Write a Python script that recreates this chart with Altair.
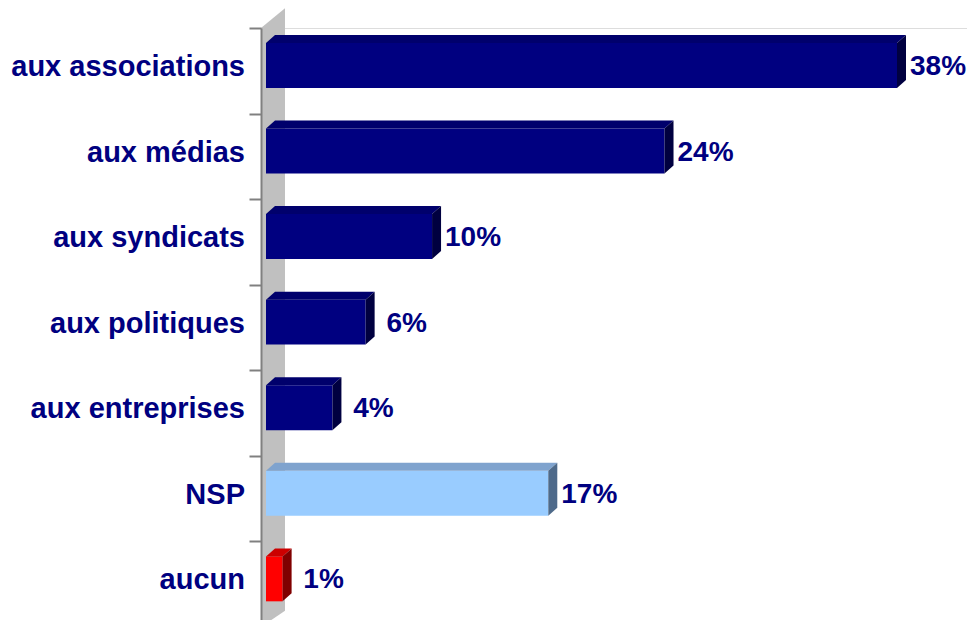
import altair as alt
import pandas as pd

# ---- data ----
categories = ["aux associations", "aux médias", "aux syndicats", "aux politiques",
              "aux entreprises", "NSP", "aucun"]
values = [38, 24, 10, 6, 4, 17, 1]
labels = ["38%", "24%", "10%", "6%", "4%", "17%", "1%"]

# ---- style ----
NAVY = "#000080"
face_colors = [NAVY] * 5 + ["#99CCFF", "#FF0000"]
top_colors = ["#00006C"] * 5 + ["#7FA3CE", "#CC0000"]
side_colors = ["#000040"] * 5 + ["#4E6A8A", "#800000"]
FONT = "Liberation Sans"
FS = 29
FS_VAL = 28
PX_PER_UNIT = 631 / 38.0
DX = 9 / PX_PER_UNIT        # depth in x (value units)
DY = 8 / 85.6               # depth in y (band units)
BAR_TOP, BAR_BOT = 0.175, 0.70
W = 706                      # plot width (svg total 959)
H = 592                      # plot height (svg total 612)
Y_RANGE = 599                # pixel extent of the 7 category bands
XMIN = -5 / PX_PER_UNIT
XMAX = XMIN + W / PX_PER_UNIT

rows_face, rows_top, rows_side, rows_text = [], [], [], []
for i, (c, v, lab) in enumerate(zip(categories, values, labels)):
    top, bot = i + BAR_TOP, i + BAR_BOT
    rows_face.append(dict(cat=c, x=0, x2=v, y=top, y2=bot, col=face_colors[i]))
    for xx, yy, yy2 in [(0, top, top), (DX, top - DY, top), (v, top - DY, top),
                        (v + DX, top - DY, top - DY)]:
        rows_top.append(dict(cat=c, x=xx, y=yy, y2=yy2, col=top_colors[i]))
    for xx, yy, yy2 in [(v, top, bot), (v + DX, top - DY, bot - DY)]:
        rows_side.append(dict(cat=c, x=xx, y=yy, y2=yy2, col=side_colors[i]))
    rows_text.append(dict(cat=c, v=v, lab=lab, y=i + 0.455))

face = pd.DataFrame(rows_face)
topf = pd.DataFrame(rows_top)
side = pd.DataFrame(rows_side)
txt = pd.DataFrame(rows_text)

# back wall (decoration)
wall = pd.DataFrame([
    dict(x=XMIN, y=0.0, y2=7.0),
    dict(x=19 / PX_PER_UNIT, y=-0.23, y2=6.81),
])

xs = alt.Scale(domain=[XMIN, XMAX], nice=False, zero=False)
ys = alt.Scale(domain=[0, 7], range=[0, Y_RANGE], nice=False, zero=False)


def yaxis():
    return alt.Axis(values=list(range(8)), labels=False, tickSize=12, tickWidth=2,
                    domainWidth=2, domainColor="#808080", tickColor="#808080",
                    grid=False, title=None, zindex=1)


def X(field):
    return alt.X(field, scale=xs, axis=None)


def Y(field):
    return alt.Y(field, scale=ys, axis=yaxis(), stack=None)


wall_layer = alt.Chart(wall).mark_area(color="#C0C0C0", orient="vertical").encode(
    x=X("x:Q"), y=Y("y:Q"), y2="y2:Q",
)

face_layer = alt.Chart(face).mark_rect().encode(
    x=X("x:Q"), x2="x2:Q", y=Y("y:Q"), y2="y2:Q",
    color=alt.Color("col:N", scale=None),
)

top_layer = alt.Chart(topf).mark_area(orient="vertical").encode(
    x=X("x:Q"), y=Y("y:Q"), y2="y2:Q",
    color=alt.Color("col:N", scale=None), detail="cat:N",
)

side_layer = alt.Chart(side).mark_area(orient="vertical").encode(
    x=X("x:Q"), y=Y("y:Q"), y2="y2:Q",
    color=alt.Color("col:N", scale=None), detail="cat:N",
)

val_text = alt.Chart(txt).mark_text(
    font=FONT, fontSize=FS_VAL, fontWeight="bold", color=NAVY,
    align="center", baseline="middle", dx=41,
).encode(x=X("v:Q"), y=Y("y:Q"), text="lab:N")

cat_text = alt.Chart(txt).mark_text(
    font=FONT, fontSize=FS, fontWeight="bold", color=NAVY,
    align="right", baseline="middle",
).encode(x=alt.value(-16), y=Y("y:Q"), text="cat:N")

chart = alt.layer(wall_layer, face_layer, top_layer, side_layer, val_text, cat_text).properties(
    width=W, height=H,
    autosize=alt.AutoSizeParams(type="none"),
    padding={"left": 253, "top": 20, "right": 0, "bottom": 0},
).configure_view(
    stroke="transparent", strokeWidth=0, strokeOpacity=0
).configure_axisX(
    domain=False, grid=False, ticks=False, labels=False
).configure_axis(grid=False).configure(background="white")

chart.save("out.html", embed_options={"renderer": "svg", "actions": False})
